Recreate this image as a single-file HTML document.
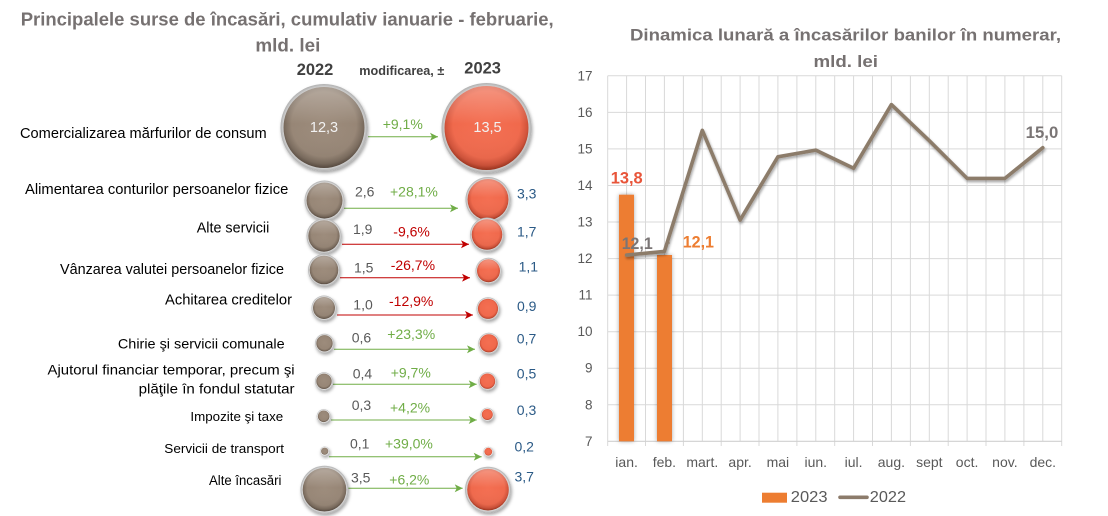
<!DOCTYPE html>
<html>
<head>
<meta charset="utf-8">
<style>
html,body{margin:0;padding:0;background:#fff;}
svg{display:block;font-family:"Liberation Sans",Arial,sans-serif;}
</style>
</head>
<body>
<svg width="1108" height="516" viewBox="0 0 1108 516" xmlns="http://www.w3.org/2000/svg">
<defs>
  <radialGradient id="halo" cx="50%" cy="50%" r="50%">
    <stop offset="0%" stop-color="#ffffff"/>
    <stop offset="86%" stop-color="#f2f2f2"/>
    <stop offset="100%" stop-color="#b0b0b0"/>
  </radialGradient>
  <radialGradient id="g22" cx="50%" cy="46%" r="54%">
    <stop offset="0%" stop-color="#9d8c7c"/>
    <stop offset="74%" stop-color="#978676"/>
    <stop offset="90%" stop-color="#7b6c5e"/>
    <stop offset="100%" stop-color="#5a4d42"/>
  </radialGradient>
  <radialGradient id="g23" cx="50%" cy="46%" r="54%">
    <stop offset="0%" stop-color="#f46f52"/>
    <stop offset="74%" stop-color="#f0694c"/>
    <stop offset="90%" stop-color="#d2533a"/>
    <stop offset="100%" stop-color="#a0361f"/>
  </radialGradient>
  <linearGradient id="hl" x1="0" y1="0" x2="0" y2="1">
    <stop offset="0%" stop-color="#ffffff" stop-opacity="0.30"/>
    <stop offset="45%" stop-color="#ffffff" stop-opacity="0"/>
    <stop offset="100%" stop-color="#000000" stop-opacity="0.06"/>
  </linearGradient>
  <filter id="bsh" x="-30%" y="-30%" width="160%" height="170%">
    <feDropShadow dx="1" dy="2" stdDeviation="1.6" flood-color="#000" flood-opacity="0.35"/>
  </filter>
  <filter id="lsh" x="-5%" y="-10%" width="110%" height="130%">
    <feDropShadow dx="1" dy="2" stdDeviation="1.4" flood-color="#000" flood-opacity="0.35"/>
  </filter>
  <filter id="barsh" x="-60%" y="-5%" width="220%" height="110%">
    <feDropShadow dx="0" dy="0" stdDeviation="2" flood-color="#000" flood-opacity="0.35"/>
  </filter>
  <marker id="ag" markerUnits="userSpaceOnUse" markerWidth="9" markerHeight="8" refX="8" refY="4" orient="auto">
    <path d="M0,0 L8,4 L0,8 L2,4 Z" fill="#70ad47"/>
  </marker>
  <marker id="ar" markerUnits="userSpaceOnUse" markerWidth="9" markerHeight="8" refX="8" refY="4" orient="auto">
    <path d="M0,0 L8,4 L0,8 L2,4 Z" fill="#c00000"/>
  </marker>
</defs>

<!-- ============ LEFT CHART ============ -->
<g font-weight="bold" fill="#767171" font-size="18.5">
  <text x="20.7" y="19" dominant-baseline="central" textLength="533" lengthAdjust="spacingAndGlyphs">Principalele surse de încasări, cumulativ ianuarie - februarie,</text>
  <text x="255.4" y="45" dominant-baseline="central" textLength="65" lengthAdjust="spacingAndGlyphs">mld. lei</text>
</g>
<g font-weight="bold" fill="#404040">
  <text x="296.7" y="70" font-size="16.5" dominant-baseline="central" textLength="36.6" lengthAdjust="spacingAndGlyphs">2022</text>
  <text x="359.3" y="71" font-size="12.5" dominant-baseline="central" textLength="85" lengthAdjust="spacingAndGlyphs">modificarea, ±</text>
  <text x="464.3" y="68.3" font-size="16.5" dominant-baseline="central" textLength="36.7" lengthAdjust="spacingAndGlyphs">2023</text>
</g>

<!-- category labels -->
<g fill="#000" font-size="14.5">
  <text x="20" y="134" dominant-baseline="central" textLength="246.7" lengthAdjust="spacingAndGlyphs">Comercializarea mărfurilor de consum</text>
  <text x="25" y="190" dominant-baseline="central" textLength="263.3" lengthAdjust="spacingAndGlyphs">Alimentarea conturilor persoanelor fizice</text>
  <text x="196.7" y="228.3" dominant-baseline="central" textLength="72.6" lengthAdjust="spacingAndGlyphs">Alte servicii</text>
  <text x="60" y="270" dominant-baseline="central" textLength="224" lengthAdjust="spacingAndGlyphs">Vânzarea valutei persoanelor fizice</text>
  <text x="165" y="300.7" dominant-baseline="central" textLength="127" lengthAdjust="spacingAndGlyphs">Achitarea creditelor</text>
  <text x="117.9" y="343.3" dominant-baseline="central" textLength="166.7" lengthAdjust="spacingAndGlyphs" font-size="14">Chirie şi servicii comunale</text>
  <text x="47.5" y="369.3" dominant-baseline="central" textLength="247.1" lengthAdjust="spacingAndGlyphs" font-size="14">Ajutorul financiar temporar, precum şi</text>
  <text x="138.6" y="388.3" dominant-baseline="central" textLength="156" lengthAdjust="spacingAndGlyphs" font-size="14">plăţile în fondul statutar</text>
  <text x="190.4" y="416.7" dominant-baseline="central" textLength="92.8" lengthAdjust="spacingAndGlyphs" font-size="13">Impozite şi taxe</text>
  <text x="164.3" y="448.3" dominant-baseline="central" textLength="119.7" lengthAdjust="spacingAndGlyphs" font-size="13">Servicii de transport</text>
  <text x="209" y="480.7" dominant-baseline="central" textLength="72.4" lengthAdjust="spacingAndGlyphs" font-size="13.5">Alte încasări</text>
</g>

<!-- arrows -->
<g stroke-width="1" fill="none">
  <line x1="368" y1="136.7" x2="438" y2="136.7" stroke="#70ad47" marker-end="url(#ag)"/>
  <line x1="344" y1="208.3" x2="458" y2="208.3" stroke="#70ad47" marker-end="url(#ag)"/>
  <line x1="342" y1="244.3" x2="469" y2="244.3" stroke="#c00000" marker-end="url(#ar)"/>
  <line x1="340" y1="277.7" x2="470" y2="277.7" stroke="#c00000" marker-end="url(#ar)"/>
  <line x1="337" y1="315" x2="473" y2="315" stroke="#c00000" marker-end="url(#ar)"/>
  <line x1="334" y1="349.3" x2="475" y2="349.3" stroke="#70ad47" marker-end="url(#ag)"/>
  <line x1="333" y1="384.3" x2="476.7" y2="384.3" stroke="#70ad47" marker-end="url(#ag)"/>
  <line x1="331" y1="420" x2="476.7" y2="420" stroke="#70ad47" marker-end="url(#ag)"/>
  <line x1="329" y1="456.7" x2="481.7" y2="456.7" stroke="#70ad47" marker-end="url(#ag)"/>
  <line x1="348" y1="488.3" x2="462.7" y2="488.3" stroke="#70ad47" marker-end="url(#ag)"/>
</g>

<!-- bubbles 2022 -->
<g>
  <circle cx="324" cy="127.5" r="43.5" fill="url(#halo)" filter="url(#bsh)"/>
  <circle cx="324" cy="127.5" r="40.5" fill="url(#g22)"/>
  <circle cx="324" cy="127.5" r="40.5" fill="url(#hl)"/>

  <circle cx="324.5" cy="200.5" r="20" fill="url(#halo)" filter="url(#bsh)"/>
  <circle cx="324.5" cy="200.5" r="18" fill="url(#g22)"/>
  <circle cx="324.5" cy="200.5" r="18" fill="url(#hl)"/>

  <circle cx="324" cy="236" r="17.5" fill="url(#halo)" filter="url(#bsh)"/>
  <circle cx="324" cy="236" r="15.7" fill="url(#g22)"/>
  <circle cx="324" cy="236" r="15.7" fill="url(#hl)"/>

  <circle cx="324" cy="270" r="16" fill="url(#halo)" filter="url(#bsh)"/>
  <circle cx="324" cy="270" r="14.3" fill="url(#g22)"/>
  <circle cx="324" cy="270" r="14.3" fill="url(#hl)"/>

  <circle cx="324" cy="308" r="12.5" fill="url(#halo)" filter="url(#bsh)"/>
  <circle cx="324" cy="308" r="11" fill="url(#g22)"/>
  <circle cx="324" cy="308" r="11" fill="url(#hl)"/>

  <circle cx="324.5" cy="343.3" r="9.5" fill="url(#halo)" filter="url(#bsh)"/>
  <circle cx="324.5" cy="343.3" r="8.2" fill="url(#g22)"/>

  <circle cx="324" cy="381.3" r="9" fill="url(#halo)" filter="url(#bsh)"/>
  <circle cx="324" cy="381.3" r="7.7" fill="url(#g22)"/>

  <circle cx="323.7" cy="416.3" r="7" fill="url(#halo)" filter="url(#bsh)"/>
  <circle cx="323.7" cy="416.3" r="5.8" fill="url(#g22)"/>

  <circle cx="324.7" cy="451.2" r="4.7" fill="url(#halo)" filter="url(#bsh)"/>
  <circle cx="324.7" cy="451.2" r="3.6" fill="url(#g22)"/>

  <circle cx="324.5" cy="489.7" r="24" fill="url(#halo)" filter="url(#bsh)"/>
  <circle cx="324.5" cy="489.7" r="21.8" fill="url(#g22)"/>
  <circle cx="324.5" cy="489.7" r="21.8" fill="url(#hl)"/>
</g>

<!-- bubbles 2023 -->
<g>
  <circle cx="486.5" cy="128" r="45" fill="url(#halo)" filter="url(#bsh)"/>
  <circle cx="486.5" cy="128" r="42" fill="url(#g23)"/>
  <circle cx="486.5" cy="128" r="42" fill="url(#hl)"/>

  <circle cx="488" cy="199.5" r="22.5" fill="url(#halo)" filter="url(#bsh)"/>
  <circle cx="488" cy="199.5" r="20.5" fill="url(#g23)"/>
  <circle cx="488" cy="199.5" r="20.5" fill="url(#hl)"/>

  <circle cx="487" cy="234.5" r="17" fill="url(#halo)" filter="url(#bsh)"/>
  <circle cx="487" cy="234.5" r="15.3" fill="url(#g23)"/>
  <circle cx="487" cy="234.5" r="15.3" fill="url(#hl)"/>

  <circle cx="488.5" cy="270.8" r="13" fill="url(#halo)" filter="url(#bsh)"/>
  <circle cx="488.5" cy="270.8" r="11.5" fill="url(#g23)"/>
  <circle cx="488.5" cy="270.8" r="11.5" fill="url(#hl)"/>

  <circle cx="488" cy="308.8" r="11.5" fill="url(#halo)" filter="url(#bsh)"/>
  <circle cx="488" cy="308.8" r="10.1" fill="url(#g23)"/>

  <circle cx="488.8" cy="343.3" r="10.5" fill="url(#halo)" filter="url(#bsh)"/>
  <circle cx="488.8" cy="343.3" r="9.1" fill="url(#g23)"/>

  <circle cx="487.5" cy="381.2" r="9" fill="url(#halo)" filter="url(#bsh)"/>
  <circle cx="487.5" cy="381.2" r="7.7" fill="url(#g23)"/>

  <circle cx="487.3" cy="414.5" r="6.7" fill="url(#halo)" filter="url(#bsh)"/>
  <circle cx="487.3" cy="414.5" r="5.5" fill="url(#g23)"/>

  <circle cx="488.3" cy="451.7" r="5" fill="url(#halo)" filter="url(#bsh)"/>
  <circle cx="488.3" cy="451.7" r="3.9" fill="url(#g23)"/>

  <circle cx="488" cy="489.7" r="23" fill="url(#halo)" filter="url(#bsh)"/>
  <circle cx="488" cy="489.7" r="20.8" fill="url(#g23)"/>
  <circle cx="488" cy="489.7" r="20.8" fill="url(#hl)"/>
</g>

<!-- bubble inner labels -->
<g fill="#f2f2f2" font-size="14.5" text-anchor="middle">
  <text x="324" y="128" dominant-baseline="central">12,3</text>
  <text x="487.5" y="128" dominant-baseline="central">13,5</text>
</g>

<!-- 2022 values -->
<g fill="#595959" font-size="14">
  <text x="355" y="191.7" dominant-baseline="central">2,6</text>
  <text x="353" y="229" dominant-baseline="central">1,9</text>
  <text x="354" y="267.7" dominant-baseline="central">1,5</text>
  <text x="353.3" y="304.3" dominant-baseline="central">1,0</text>
  <text x="351.7" y="337.7" dominant-baseline="central">0,6</text>
  <text x="352.7" y="373.3" dominant-baseline="central">0,4</text>
  <text x="351.7" y="405" dominant-baseline="central">0,3</text>
  <text x="350" y="443.3" dominant-baseline="central">0,1</text>
  <text x="351" y="477.7" dominant-baseline="central">3,5</text>
</g>

<!-- percent changes -->
<g font-size="14">
  <text x="382.7" y="124" fill="#70ad47" dominant-baseline="central">+9,1%</text>
  <text x="390" y="191.7" fill="#70ad47" dominant-baseline="central">+28,1%</text>
  <text x="393.3" y="231.7" fill="#c00000" dominant-baseline="central">-9,6%</text>
  <text x="390.7" y="265" fill="#c00000" dominant-baseline="central">-26,7%</text>
  <text x="389" y="301" fill="#c00000" dominant-baseline="central">-12,9%</text>
  <text x="387.3" y="334" fill="#70ad47" dominant-baseline="central">+23,3%</text>
  <text x="390.7" y="372.7" fill="#70ad47" dominant-baseline="central">+9,7%</text>
  <text x="390" y="407.3" fill="#70ad47" dominant-baseline="central">+4,2%</text>
  <text x="385" y="443.3" fill="#70ad47" dominant-baseline="central">+39,0%</text>
  <text x="389.3" y="479.3" fill="#70ad47" dominant-baseline="central">+6,2%</text>
</g>

<!-- 2023 values -->
<g fill="#2b5a86" font-size="14">
  <text x="517" y="193.3" dominant-baseline="central">3,3</text>
  <text x="517" y="231.7" dominant-baseline="central">1,7</text>
  <text x="518.6" y="266.7" dominant-baseline="central">1,1</text>
  <text x="517" y="306" dominant-baseline="central">0,9</text>
  <text x="516.8" y="338.3" dominant-baseline="central">0,7</text>
  <text x="516.8" y="373.3" dominant-baseline="central">0,5</text>
  <text x="516.8" y="410" dominant-baseline="central">0,3</text>
  <text x="514.5" y="446.7" dominant-baseline="central">0,2</text>
  <text x="514.5" y="476.7" dominant-baseline="central">3,7</text>
</g>

<!-- ============ RIGHT CHART ============ -->
<g font-weight="bold" fill="#767171" font-size="17">
  <text x="630" y="35" dominant-baseline="central" textLength="431" lengthAdjust="spacingAndGlyphs">Dinamica lunară a încasărilor banilor în numerar,</text>
  <text x="813.5" y="61.7" dominant-baseline="central" textLength="64.5" lengthAdjust="spacingAndGlyphs">mld. lei</text>
</g>

<!-- gridlines -->
<g stroke="#d9d9d9" stroke-width="1">
  <line x1="607.7" y1="75.8" x2="1061.7" y2="75.8"/>
  <line x1="607.7" y1="112.4" x2="1061.7" y2="112.4"/>
  <line x1="607.7" y1="148.9" x2="1061.7" y2="148.9"/>
  <line x1="607.7" y1="185.5" x2="1061.7" y2="185.5"/>
  <line x1="607.7" y1="222" x2="1061.7" y2="222"/>
  <line x1="607.7" y1="258.6" x2="1061.7" y2="258.6"/>
  <line x1="607.7" y1="295.1" x2="1061.7" y2="295.1"/>
  <line x1="607.7" y1="331.7" x2="1061.7" y2="331.7"/>
  <line x1="607.7" y1="368.2" x2="1061.7" y2="368.2"/>
  <line x1="607.7" y1="404.8" x2="1061.7" y2="404.8"/>
  <!-- vertical -->
  <line x1="607.7" y1="75.8" x2="607.7" y2="446"/>
  <line x1="626.6" y1="75.8" x2="626.6" y2="441.3"/>
  <line x1="645.5" y1="75.8" x2="645.5" y2="446"/>
  <line x1="664.4" y1="75.8" x2="664.4" y2="441.3"/>
  <line x1="683.4" y1="75.8" x2="683.4" y2="446"/>
  <line x1="702.3" y1="75.8" x2="702.3" y2="441.3"/>
  <line x1="721.2" y1="75.8" x2="721.2" y2="446"/>
  <line x1="740.1" y1="75.8" x2="740.1" y2="441.3"/>
  <line x1="759" y1="75.8" x2="759" y2="446"/>
  <line x1="777.9" y1="75.8" x2="777.9" y2="441.3"/>
  <line x1="796.9" y1="75.8" x2="796.9" y2="446"/>
  <line x1="815.8" y1="75.8" x2="815.8" y2="441.3"/>
  <line x1="834.7" y1="75.8" x2="834.7" y2="446"/>
  <line x1="853.6" y1="75.8" x2="853.6" y2="441.3"/>
  <line x1="872.5" y1="75.8" x2="872.5" y2="446"/>
  <line x1="891.4" y1="75.8" x2="891.4" y2="441.3"/>
  <line x1="910.4" y1="75.8" x2="910.4" y2="446"/>
  <line x1="929.3" y1="75.8" x2="929.3" y2="441.3"/>
  <line x1="948.2" y1="75.8" x2="948.2" y2="446"/>
  <line x1="967.1" y1="75.8" x2="967.1" y2="441.3"/>
  <line x1="986" y1="75.8" x2="986" y2="446"/>
  <line x1="1004.9" y1="75.8" x2="1004.9" y2="441.3"/>
  <line x1="1023.9" y1="75.8" x2="1023.9" y2="446"/>
  <line x1="1042.8" y1="75.8" x2="1042.8" y2="441.3"/>
  <line x1="1061.7" y1="75.8" x2="1061.7" y2="446"/>
</g>
<line x1="607.7" y1="441.3" x2="1061.7" y2="441.3" stroke="#d0d0d0" stroke-width="1.2"/>

<!-- y axis labels -->
<g fill="#595959" font-size="13.5" text-anchor="end">
  <text x="592.5" y="75.8" dominant-baseline="central">17</text>
  <text x="592.5" y="112.4" dominant-baseline="central">16</text>
  <text x="592.5" y="148.9" dominant-baseline="central">15</text>
  <text x="592.5" y="185.5" dominant-baseline="central">14</text>
  <text x="592.5" y="222" dominant-baseline="central">13</text>
  <text x="592.5" y="258.6" dominant-baseline="central">12</text>
  <text x="592.5" y="295.1" dominant-baseline="central">11</text>
  <text x="592.5" y="331.7" dominant-baseline="central">10</text>
  <text x="592.5" y="368.2" dominant-baseline="central">9</text>
  <text x="592.5" y="404.8" dominant-baseline="central">8</text>
  <text x="592.5" y="441.3" dominant-baseline="central">7</text>
</g>

<!-- x axis labels -->
<g fill="#595959" font-size="14" text-anchor="middle">
  <text x="626.6" y="462" dominant-baseline="central">ian.</text>
  <text x="664.4" y="462" dominant-baseline="central">feb.</text>
  <text x="702.3" y="462" dominant-baseline="central">mart.</text>
  <text x="740.1" y="462" dominant-baseline="central">apr.</text>
  <text x="777.9" y="462" dominant-baseline="central">mai</text>
  <text x="815.8" y="462" dominant-baseline="central">iun.</text>
  <text x="853.6" y="462" dominant-baseline="central">iul.</text>
  <text x="891.4" y="462" dominant-baseline="central">aug.</text>
  <text x="929.3" y="462" dominant-baseline="central">sept</text>
  <text x="967.1" y="462" dominant-baseline="central">oct.</text>
  <text x="1004.9" y="462" dominant-baseline="central">nov.</text>
  <text x="1042.8" y="462" dominant-baseline="central">dec.</text>
</g>

<!-- bars 2023 -->
<g fill="#ed7d31" filter="url(#barsh)">
  <rect x="619" y="194.7" width="15" height="246.6"/>
  <rect x="657" y="255" width="15" height="186.3"/>
</g>

<!-- line 2022 -->
<polyline filter="url(#lsh)" fill="none" stroke="#8c7b6b" stroke-width="3.6" stroke-linejoin="round" stroke-linecap="round"
  points="626.6,255.1 664.4,251.4 702.3,130.3 740.1,220.1 777.9,156.8 815.8,150.1 853.6,168.2 891.4,104.6 929.3,140.7 967.1,178.4 1004.9,178.4 1042.8,147.7"/>
<polyline fill="none" stroke="#8c7b6b" stroke-width="1" points="665,250 666,243 670,243"/>

<!-- data labels -->
<g font-weight="bold" font-size="16.5">
  <text x="610.7" y="178.3" fill="#e8553a" dominant-baseline="central" textLength="32" lengthAdjust="spacingAndGlyphs">13,8</text>
  <text x="621.7" y="244" fill="#7a7575" dominant-baseline="central" textLength="31" lengthAdjust="spacingAndGlyphs">12,1</text>
  <text x="682.7" y="242.7" fill="#ed7d31" dominant-baseline="central" textLength="31.3" lengthAdjust="spacingAndGlyphs">12,1</text>
  <text x="1025.7" y="133" fill="#7a7575" dominant-baseline="central" textLength="32.6" lengthAdjust="spacingAndGlyphs">15,0</text>
</g>

<!-- legend -->
<rect x="762" y="492.7" width="25" height="10" fill="#ed7d31"/>
<text x="790.8" y="497.3" fill="#595959" font-size="16" dominant-baseline="central" textLength="36.7" lengthAdjust="spacingAndGlyphs">2023</text>
<line x1="840" y1="497.3" x2="867" y2="497.3" stroke="#8c7b6b" stroke-width="3.6" stroke-linecap="round"/>
<text x="869.8" y="497.3" fill="#595959" font-size="16" dominant-baseline="central" textLength="36.2" lengthAdjust="spacingAndGlyphs">2022</text>
</svg>
</body>
</html>
